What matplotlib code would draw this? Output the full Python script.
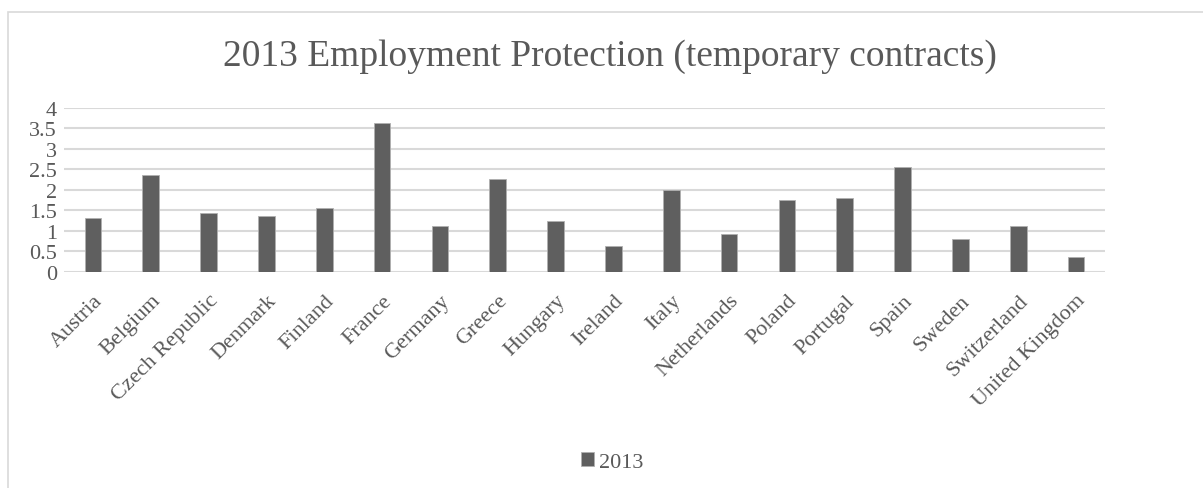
import numpy as np
import matplotlib.pyplot as plt
from matplotlib.patches import Rectangle

countries = ['Austria', 'Belgium', 'Czech Republic', 'Denmark', 'Finland', 'France',
             'Germany', 'Greece', 'Hungary', 'Ireland', 'Italy', 'Netherlands',
             'Poland', 'Portugal', 'Spain', 'Sweden', 'Switzerland', 'United Kingdom']
epl_2013 = [1.30, 2.37, 1.43, 1.37, 1.55, 3.63, 1.12, 2.25, 1.24, 0.63,
            2.00, 0.93, 1.74, 1.80, 2.56, 0.80, 1.12, 0.37]
y_ticks = [0, 0.5, 1, 1.5, 2, 2.5, 3, 3.5, 4]

TEXT = '#595959'
BAR = '#5f5f5f'
GRID = '#d9d9d9'

plt.rcParams['font.family'] = ['Liberation Serif', 'DejaVu Serif']

fig = plt.figure(figsize=(12.03, 4.89), dpi=100)
ax = fig.add_axes([64 / 1203, 1 - 272.7 / 489, (1105 - 64) / 1203, (272.7 - 108.7) / 489])

# outer chart frame
fig.patches.append(Rectangle((8 / 1203, -0.1), 1.2, 1 - 13 / 489 + 0.1,
                             transform=fig.transFigure, fill=False,
                             edgecolor=GRID, linewidth=1.2))

x = np.arange(len(countries))
ax.bar(x, epl_2013, width=0.29, color=BAR, edgecolor='#b0b0b0', linewidth=0.6,
       label='2013', zorder=3)

ax.set_xlim(-0.5, len(countries) - 0.5)
ax.set_ylim(0, 4)
ax.set_yticks(y_ticks)
ax.set_yticklabels([f'{t:g}' for t in y_ticks])
ax.yaxis.grid(True, color=GRID, linewidth=1.5, zorder=0)
ax.set_axisbelow(True)
for s in ax.spines.values():
    s.set_visible(False)
ax.tick_params(axis='both', length=0, labelsize=16, colors=TEXT, pad=2)
ax.tick_params(axis='y', pad=5)

ax.set_xticks(x)
ax.set_xticklabels(countries, rotation=45, ha='right', va='top',
                   rotation_mode='anchor', fontsize=16, color=TEXT)
for lbl in ax.get_xticklabels():
    lbl.set_y(-0.1)

fig.text(609.5 / 1203, 1 - 57 / 489, '2013 Employment Protection (temporary contracts)',
         ha='center', va='center', fontsize=27, color=TEXT)

leg = fig.legend(loc='center', bbox_to_anchor=(612 / 1203, 1 - 463 / 489),
                 frameon=False, fontsize=16, handlelength=0.6, handleheight=0.6,
                 handletextpad=0.2, labelcolor=TEXT)

fig.savefig('out.png', dpi=100, facecolor='white')
